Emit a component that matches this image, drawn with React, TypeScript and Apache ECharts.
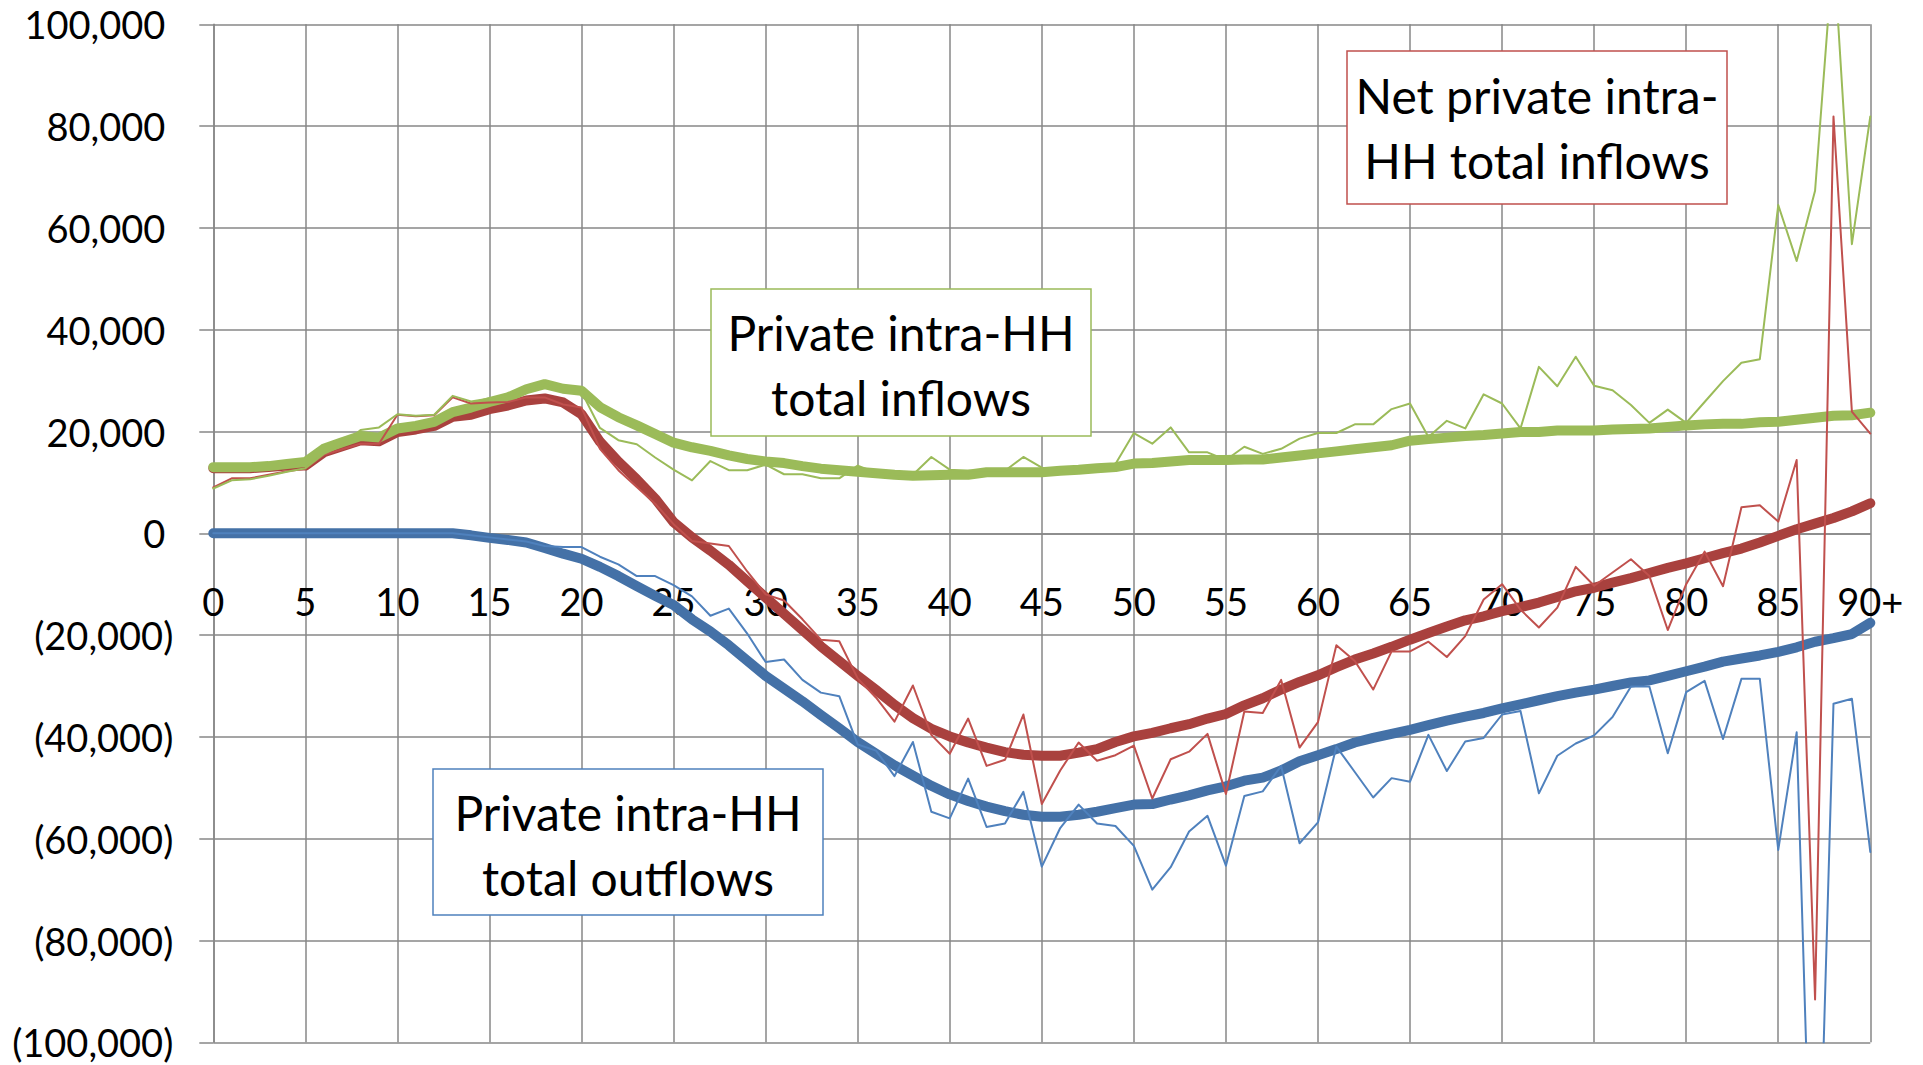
import React, { useEffect, useRef } from "react";
import * as echarts from "echarts";

const categories = [
  "0", "1", "2", "3", "4", "5", "6", "7", "8", "9",
  "10", "11", "12", "13", "14", "15", "16", "17", "18", "19",
  "20", "21", "22", "23", "24", "25", "26", "27", "28", "29",
  "30", "31", "32", "33", "34", "35", "36", "37", "38", "39",
  "40", "41", "42", "43", "44", "45", "46", "47", "48", "49",
  "50", "51", "52", "53", "54", "55", "56", "57", "58", "59",
  "60", "61", "62", "63", "64", "65", "66", "67", "68", "69",
  "70", "71", "72", "73", "74", "75", "76", "77", "78", "79",
  "80", "81", "82", "83", "84", "85", "86", "87", "88", "89",
  "90+",
];

// thin lines: raw values by age
const inflowsRaw = [
  8800, 10400, 10600, 11300, 12100, 12800, 15600, 17300, 20300, 20800,
  23400, 23100, 23300, 27000, 25900, 26500, 27000, 28300, 29200, 28000,
  27800, 20700, 18300, 17500, 14900, 12500, 10400, 14200, 12400, 12400,
  13500, 11600, 11600, 10800, 10800, 13300, 11900, 11500, 11500, 15000,
  12500, 12300, 12300, 12300, 15000, 12900, 12400, 12600, 12800, 13600,
  19700, 17600, 20800, 15900, 15900, 14400, 17000, 15600, 16600, 18600,
  19700, 19700, 21400, 21400, 24400, 25500, 18900, 22100, 20600, 27300,
  25500, 20600, 32700, 28900, 34700, 29000, 28100, 25200, 21700, 24300,
  21700, 25800, 29900, 33500, 34200, 64500, 53500, 67300, 115000, 56800,
  81900,
];

const netRaw = [
  9000, 10800, 10800, 11500, 12200, 12700, 15400, 16500, 17600, 17600,
  23300, 23000, 23200, 26700, 25500, 25700, 25800, 26700, 26700, 25300,
  24700, 16600, 12400, 9100, 5800, 1800, -1500, -2000, -2500, -7500,
  -12000, -13200, -16900, -20900, -21200, -28500, -32300, -37000, -29900, -39600,
  -43300, -36400, -45700, -44500, -35600, -53200, -46600, -41100, -44700, -43600,
  -41700, -52100, -44400, -42900, -39400, -51200, -35000, -35300, -28800, -42100,
  -37100, -22000, -25100, -30700, -23200, -23200, -21300, -24300, -20200, -13000,
  -10000, -15000, -18500, -14600, -6600, -10300, -7700, -5100, -8400, -19000,
  -10000, -3600, -10400, 5100, 5500, 2300, 14400, -91600, 81900, 23900,
  19600,
];

const outflowsRaw = [
  0, 0, 0, 0, 0, 0, 0, 0, 0, 0,
  0, 0, 0, 0, -400, -800, -1200, -1600, -2500, -2700,
  -2700, -4600, -6100, -8400, -8400, -10200, -12400, -16200, -14800, -19700,
  -25300, -24800, -28800, -31300, -32000, -41500, -42700, -47700, -41000, -54700,
  -56000, -48200, -57700, -57000, -50800, -65500, -57900, -53300, -57000, -57500,
  -61400, -70000, -65600, -58600, -55500, -65300, -51600, -50700, -45700, -60900,
  -56800, -41900, -46900, -51900, -48100, -48800, -39600, -46700, -40900, -40200,
  -35600, -34900, -51100, -43700, -41300, -39700, -36100, -30100, -30100, -43200,
  -31200, -29000, -40400, -28600, -28600, -62200, -39100, -159000, -33500, -32500,
  -62600,
];

// thick lines: smoothed values by age
const inflowsSmooth = [
  13000, 13000, 13000, 13200, 13600, 14000, 16600, 17900, 19100, 18800,
  20600, 21100, 21900, 23800, 24700, 25800, 26700, 28300, 29300, 28400,
  28000, 24800, 22800, 21200, 19500, 17800, 16900, 16200, 15300, 14600,
  14100, 13800, 13200, 12700, 12400, 12100, 11800, 11500, 11300, 11400,
  11500, 11500, 12000, 12000, 12000, 12000, 12300, 12500, 12800, 13000,
  13700, 13800, 14100, 14400, 14400, 14400, 14500, 14500, 14900, 15300,
  15700, 16100, 16500, 16900, 17300, 18200, 18500, 18800, 19100, 19300,
  19600, 19900, 19900, 20200, 20200, 20200, 20400, 20500, 20600, 20900,
  21200, 21400, 21500, 21500, 21800, 21900, 22300, 22700, 23100, 23200,
  23700,
];

const netSmooth = [
  12800, 12800, 12800, 13000, 13300, 13300, 15900, 17100, 18300, 18100,
  19900, 20400, 21100, 22900, 23300, 24400, 25100, 26100, 26500, 25700,
  23400, 18000, 14100, 10600, 6800, 2200, -800, -3400, -6200, -9400,
  -12600, -15800, -19000, -22200, -25100, -28000, -30800, -33700, -36300, -38400,
  -39900, -41100, -42100, -43000, -43500, -43700, -43700, -43100, -42400, -41000,
  -39900, -39200, -38300, -37500, -36400, -35500, -33800, -32400, -30700, -29200,
  -27900, -26300, -24800, -23600, -22300, -20900, -19600, -18300, -17100, -16300,
  -15300, -14500, -13600, -12500, -11400, -10700, -9700, -8800, -7800, -6800,
  -5900, -4900, -3900, -3000, -1800, -500, 800, 1900, 3000, 4300,
  5900,
];

const outflowsSmooth = [
  0, 0, 0, 0, 0, 0, 0, 0, 0, 0,
  0, 0, 0, 0, -400, -900, -1300, -1800, -2900, -4000,
  -5000, -6600, -8400, -10400, -12300, -14100, -16900, -19300, -22000, -25000,
  -28000, -30500, -33000, -35700, -38300, -41000, -43300, -45600, -47600, -49600,
  -51300, -52600, -53700, -54600, -55300, -55700, -55700, -55300, -54700, -54000,
  -53300, -53200, -52300, -51500, -50500, -49700, -48600, -48000, -46600, -44800,
  -43600, -42400, -41100, -40200, -39400, -38600, -37700, -36800, -36000, -35300,
  -34400, -33600, -32800, -32000, -31300, -30700, -30000, -29300, -28900, -28000,
  -27100, -26200, -25200, -24600, -24000, -23300, -22400, -21300, -20600, -19800,
  -17600,
];

const annotations = [
  { text: "Private intra-HH\ntotal inflows", color: "#9BBB59" },
  { text: "Net private intra-\nHH total inflows", color: "#C0504D" },
  { text: "Private intra-HH\ntotal outflows", color: "#4F81BD" },
];

const FONT = "Lato";
const GRID = "#878787";

const GRID_TOP = 24.3;
const GRID_BOTTOM = 22.7;
const CHART_H = 1065;

function fmt(v: number): string {
  return Math.abs(v).toLocaleString("en-US");
}

export default function App() {
  const ref = useRef<HTMLDivElement>(null);

  useEffect(() => {
    if (!ref.current) return;
    const chart = echarts.init(ref.current, undefined, { renderer: "svg" });

    const line = (name: string, data: number[], color: string, width: number, z: number) => ({
      type: "line",
      name,
      data,
      symbol: "none",
      showSymbol: false,
      silent: true,
      clip: true,
      z,
      lineStyle: { color, width, join: "round", cap: "round" },
      itemStyle: { color },
    });

    const boxes = [
      { x: 711, y: 289, w: 380, h: 147, ty: 364.5 },
      { x: 1347, y: 51, w: 380, h: 153, ty: 128 },
      { x: 433, y: 769, w: 390, h: 146, ty: 845 },
    ];

    const graphic: any[] = [];
    boxes.forEach((b, i) => {
      graphic.push({
        type: "rect",
        z: 100,
        shape: { x: b.x, y: b.y, width: b.w, height: b.h },
        style: { fill: "#ffffff", stroke: annotations[i].color, lineWidth: 1.5 },
      });
      graphic.push({
        type: "text",
        z: 101,
        x: b.x + b.w / 2,
        y: b.ty,
        style: {
          text: annotations[i].text,
          fill: "#000000",
          fontFamily: FONT,
          fontSize: 48,
          lineHeight: 65,
          align: "center",
          verticalAlign: "middle",
        },
      });
    });

    // the x axis sits on the zero line, which is the middle of the symmetric y range
    const plotH = CHART_H - GRID_TOP - GRID_BOTTOM;
    const zeroOffset = -plotH / 2;

    chart.setOption({
      animation: false,
      backgroundColor: "#ffffff",
      textStyle: { fontFamily: FONT },
      grid: {
        left: 213.3,
        right: 52.7,
        top: GRID_TOP,
        bottom: GRID_BOTTOM,
        containLabel: false,
        outerBoundsMode: "none",
      },
      xAxis: {
        type: "category",
        data: categories,
        boundaryGap: false,
        position: "bottom",
        offset: zeroOffset,
        axisLine: { show: true, onZero: false, lineStyle: { color: GRID, width: 1.5 } },
        axisTick: { show: false },
        axisLabel: {
          interval: 4,
          margin: 48.5,
          color: "#000000",
          fontSize: 38,
          fontFamily: FONT,
        },
        splitLine: { show: true, interval: 4, lineStyle: { color: GRID, width: 1.5 } },
      },
      yAxis: {
        type: "value",
        min: -100000,
        max: 100000,
        interval: 20000,
        axisLine: { show: true, onZero: false, lineStyle: { color: GRID, width: 1.5 } },
        axisTick: { show: true, length: 14, lineStyle: { color: GRID, width: 1.5 } },
        axisLabel: {
          margin: 40,
          color: "#000000",
          fontSize: 38,
          fontFamily: FONT,
          formatter: (v: number) => (v < 0 ? `{n|(${fmt(v)})}` : `{p|${fmt(v)}}`),
          rich: {
            p: { fontSize: 38, fontFamily: FONT, color: "#000000", padding: [0, 8, 0, 0] },
            n: { fontSize: 38, fontFamily: FONT, color: "#000000" },
          },
        },
        splitLine: { show: true, lineStyle: { color: GRID, width: 1.5 } },
      },
      series: [
        line("Private intra-HH total outflows (trend)", outflowsSmooth, "#4471A7", 10, 2),
        line("Net private intra-HH total inflows (trend)", netSmooth, "#A9413E", 10, 2),
        line("Private intra-HH total inflows (trend)", inflowsSmooth, "#9BBB59", 10, 2),
        line("Private intra-HH total outflows", outflowsRaw, "#4F81BD", 2, 3),
        line("Net private intra-HH total inflows", netRaw, "#C0504D", 2, 3),
        line("Private intra-HH total inflows", inflowsRaw, "#9BBB59", 2, 3),
      ],
      graphic,
    });

    return () => chart.dispose();
  }, []);

  return (
    <div
      ref={ref}
      style={{ position: "fixed", left: 0, top: 0, width: 1923, height: 1065, background: "#fff" }}
    />
  );
}
